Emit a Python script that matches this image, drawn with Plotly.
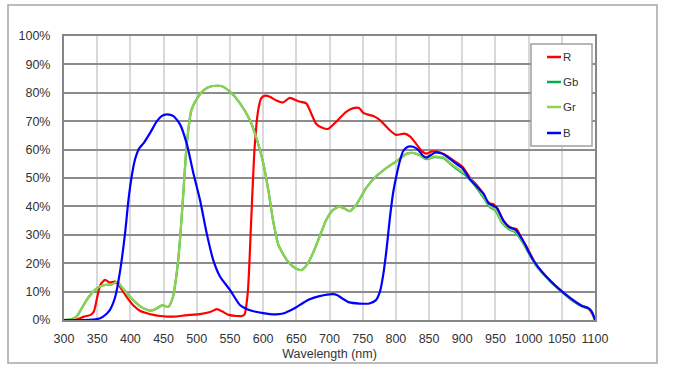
import plotly.graph_objects as go

# ---------------- data ----------------
R_WL = [300, 310, 320, 330, 340, 345, 350, 355, 362, 369, 377, 384, 394, 405, 415, 425, 435, 445, 455,
        465, 475, 490, 505, 520, 530, 540, 548, 560, 568, 572, 577, 582, 587, 592, 597, 603, 610, 620,
        630, 640, 653, 665, 672, 680, 690, 698, 710, 725, 736, 745, 751, 766, 776, 790, 800, 813, 822,
        828, 840, 846, 855, 867, 877, 888, 900, 912, 920, 930, 937, 942, 947, 952, 962, 970, 975, 982,
        990, 1000, 1012, 1022, 1035, 1050, 1065, 1080, 1090, 1095, 1100]
R_VAL = [0, 0, 0.2, 1.2, 1.8, 3, 8, 12.5, 14.1, 13.2, 13.5, 11.8, 8.2, 5, 3.2, 2.4, 1.8, 1.4, 1.2,
         1.2, 1.4, 1.8, 2.1, 2.8, 3.8, 2.8, 1.8, 1.4, 1.4, 2, 10, 35, 60, 73, 78, 79, 78.6, 77.3,
         76.6, 78.2, 77, 76.3, 73, 69, 67.6, 67.3, 69.8, 73.3, 74.6, 74.6, 72.9, 71.8, 70.4, 67, 65.2, 65.6, 64.5,
         62.8, 59.3, 58.6, 59.4, 59, 57.8, 56, 54, 50, 48, 45, 42, 41, 40.8, 39.5, 35, 33, 32.4, 32,
         28.5, 24.5, 19, 16.5, 13, 10, 7, 5, 4, 2.5, 0.3]

GB_WL = [300, 310, 318, 324, 334, 344, 354, 364, 372, 380, 389, 400, 414, 423, 432, 440, 448, 457, 464,
         469, 474, 479, 485, 492, 502, 512, 522, 537, 550, 565, 580, 590, 600, 608, 615, 623, 636, 648,
         658, 666, 675, 685, 695, 705, 715, 723, 730, 740, 755, 770, 785, 800, 816, 826, 836, 846, 857,
         872, 882, 895, 905, 915, 925, 935, 942, 950, 960, 970, 980, 990, 1000, 1010, 1020, 1032, 1048,
         1064, 1080, 1090, 1095, 1100]
GB_VAL = [0, 0.2, 1, 3, 7, 10, 11.8, 12.4, 12.5, 13.4, 11, 8, 5, 3.8, 3.3, 4.1, 5.2, 4.6, 8,
          15, 26, 42, 62, 74, 78.6, 81.2, 82.3, 82.4, 80.4, 76.4, 70.4, 64, 55.5, 45.5, 35, 26.5, 21, 18.3,
          17.6, 19.5, 23.5, 29.3, 35.2, 38.7, 39.9, 39.2, 38.3, 40.5, 46.4, 50.5, 53.4, 55.8, 58.5, 58.8, 58, 56.6, 57.3,
          57, 55, 52.6, 51, 48.5, 45.5, 42, 39.6, 38.6, 34.2, 32, 30.8, 27.7, 23.6, 19.6, 16.7, 13.8, 10.3,
          7.3, 4.8, 4, 2.9, 0]

GR_WL = [300, 310, 318, 324, 334, 344, 354, 364, 372, 380, 389, 400, 414, 423, 432, 440, 448, 457, 464,
         469, 474, 479, 485, 492, 502, 512, 522, 537, 550, 565, 580, 590, 600, 608, 615, 623, 636, 648,
         658, 666, 675, 685, 695, 705, 715, 723, 730, 740, 755, 770, 785, 800, 816, 826, 836, 846, 857,
         872, 882, 895, 905, 915, 925, 935, 942, 950, 960, 970, 980, 990, 1000, 1010, 1020, 1032, 1048,
         1064, 1080, 1090, 1095, 1100]
GR_VAL = [0, 0.2, 1, 3, 7, 10, 11.8, 12.4, 12.5, 13.4, 11, 8, 5, 3.8, 3.3, 4.1, 5.2, 4.6, 8,
          15, 26, 42, 62, 74, 78.6, 81.2, 82.3, 82.4, 80.4, 76.4, 70.4, 64, 55.5, 45.5, 35, 26.5, 21, 18.3,
          17.6, 19.5, 23.5, 29.3, 35.2, 38.7, 39.9, 39.2, 38.3, 40.5, 46.4, 50.5, 53.4, 55.8, 58.5, 58.8, 58, 56.8, 57.5,
          57.2, 55.2, 53, 51.5, 49, 46, 42.5, 40, 39, 34.5, 32.3, 31.2, 28, 23.8, 19.8, 16.8, 14, 10.5,
          7.5, 5, 4.2, 3, 0]

B_WL = [300, 330, 350, 359, 369, 377, 384, 392, 397, 402, 407, 413, 420, 430, 440, 447, 455, 465, 475,
        485, 495, 505, 515, 525, 535, 550, 565, 575, 587, 600, 610, 620, 630, 640, 650, 660, 670, 685,
        705, 712, 720, 730, 745, 760, 770, 776, 781, 786, 791, 796, 801, 806, 811, 818, 826, 834, 840,
        846, 852, 860, 872, 880, 888, 900, 912, 922, 932, 940, 946, 952, 962, 970, 980, 986, 995, 1000,
        1010, 1020, 1032, 1048, 1064, 1080, 1090, 1095, 1100]
B_VAL = [0, 0, 0.3, 1.2, 3.5, 8, 16.5, 30.6, 42, 50.6, 56.5, 60.3, 62.3, 66, 70, 71.8, 72.4, 71.8, 68.8,
         62, 51.6, 42.2, 30.5, 21, 15.3, 10.6, 5.3, 3.9, 3, 2.4, 2.1, 2, 2.3, 3.3, 4.5, 6, 7.3, 8.4,
         9.1, 8.7, 7.5, 6.2, 5.8, 5.8, 7, 10, 16, 25, 36, 45, 51, 56, 59.5, 61, 61, 59.8, 58,
         57.2, 58, 59, 58.4, 57, 55.5, 53.5, 49.5, 47, 44.5, 41, 40.3, 39.5, 35, 32.8, 31.8, 30, 26.5, 24,
         20, 17, 14, 10.5, 7.5, 5, 4.2, 3, 0]

SERIES = [
    ("R", R_WL, R_VAL, "#FF0000"),
    ("Gb", GB_WL, GB_VAL, "#00B050"),
    ("Gr", GR_WL, GR_VAL, "#92D050"),
    ("B", B_WL, B_VAL, "#0000FF"),
]
X_TICKS = list(range(300, 1101, 50))
Y_TICKS = list(range(0, 101, 10))
Y_TICK_TEXT = [f"{v}%" for v in Y_TICKS]

# ---------------- figure ----------------
FONT = "Liberation Sans, Arial, sans-serif"
fig = go.Figure()
for name, wl, val, col in SERIES:
    fig.add_trace(go.Scatter(x=wl, y=val, name=name, mode="lines",
                             line=dict(color=col, width=2.2, shape="spline", smoothing=0.6),
                             showlegend=False, hoverinfo="skip"))

fig.update_layout(
    width=676, height=378,
    margin=dict(l=64, r=81, t=36, b=58),
    paper_bgcolor="white", plot_bgcolor="white",
    font=dict(family=FONT, size=12.5, color="#333333"),
)
fig.update_xaxes(range=[300, 1100], tickvals=X_TICKS, ticktext=[str(t) for t in X_TICKS],
                 showgrid=True, gridcolor="#D9D9D9", gridwidth=2,
                 showline=True, linecolor="#868686", linewidth=2, mirror=True,
                 ticks="", zeroline=False, ticklabelstandoff=6,
                 title=dict(text="Wavelength (nm)", standoff=4, font=dict(size=12.5)))
fig.update_yaxes(range=[0, 100], tickvals=Y_TICKS, ticktext=Y_TICK_TEXT,
                 showgrid=True, gridcolor="#8C8C8C", gridwidth=2,
                 showline=True, linecolor="#868686", linewidth=2, mirror=True,
                 ticks="", zeroline=False, ticklabelstandoff=9)

# paper coords relative to plot area (531 px wide, 284 px tall)
PW, PH = 531.0, 284.0
def px(x):
    return (x - 64) / PW
def py(y):
    return (320 - y) / PH

# outer frame
fig.add_shape(type="rect", xref="paper", yref="paper",
              x0=px(8), x1=px(657), y0=py(363), y1=py(5),
              line=dict(color="#A6A6A6", width=1.5), fillcolor="rgba(0,0,0,0)", layer="below")

# compact legend box, as in the original
fig.add_shape(type="rect", xref="paper", yref="paper",
              x0=px(531), x1=px(592), y0=py(146), y1=py(44),
              line=dict(color="#A0A0A0", width=1.5), fillcolor="white", layer="above")
legend_y = [57, 82, 107, 133]
for (name, wl, val, col), ly in zip(SERIES, legend_y):
    fig.add_shape(type="line", xref="paper", yref="paper",
                  x0=px(547), x1=px(561), y0=py(ly), y1=py(ly),
                  line=dict(color=col, width=2.5), layer="above")
    fig.add_annotation(x=px(561), y=py(ly), xref="paper", yref="paper", text=name,
                       showarrow=False, xanchor="left", yanchor="middle",
                       font=dict(family=FONT, size=11.5, color="#333333"))

fig.write_html("out.html", config={"displayModeBar": False},
               post_script="document.body.style.margin='0';document.body.style.overflow='hidden';")
